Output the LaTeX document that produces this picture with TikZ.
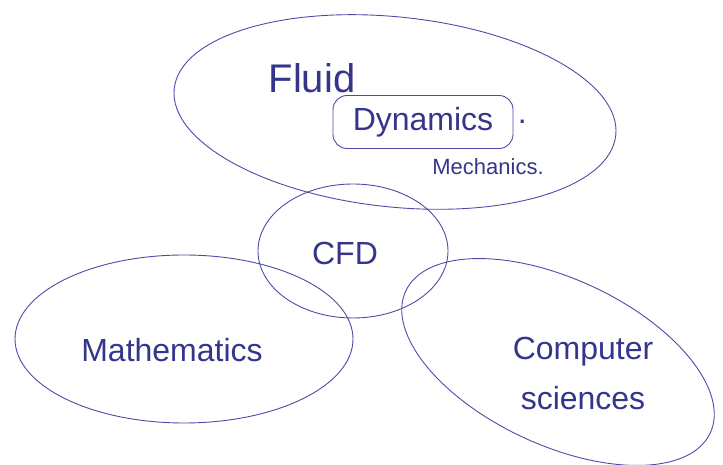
\documentclass[tikz,border=0pt]{standalone}
\usepackage{fontspec}
\setmainfont{Liberation Sans}
\usetikzlibrary{positioning,shapes.geometric}
\definecolor{inkBlue}{HTML}{4C4CA8}
\definecolor{inkDeep}{HTML}{35358C}

\tikzset{
  area/.style={draw=inkBlue,line width=0.9pt,ellipse,inner sep=0pt},
  word/.style={text=inkDeep,font=\fontsize{32}{50}\selectfont,align=center}
}

\begin{document}
\begin{tikzpicture}[x=1pt,y=1pt]
  \useasboundingbox (0,0) rectangle (723,465);
  % the four fields
  \node[area,minimum width=444pt,minimum height=190pt,rotate=-6] (fluidarea) at (395,353) {};
  \node[area,minimum width=190pt,minimum height=134pt] (cfdarea) at (353,214) {};
  \node[area,minimum width=338pt,minimum height=168pt] (matharea) at (184,126) {};
  \node[area,minimum width=336pt,minimum height=166pt,rotate=-25] (csarea) at (558,103) {};
  % labels
  \node[word,font=\fontsize{40}{48}\selectfont] (fluid) at (312,387) {Fluid};
  \node[word,draw=inkBlue,line width=0.9pt,rounded corners=14pt,
        minimum width=180pt,minimum height=53pt,inner sep=0pt] (dynamics) at (423,343) {Dynamics};
  \node[word,right=1pt of dynamics] (dot) {.};
  \node[word,font=\fontsize{22}{26}\selectfont] (mechanics) at (488,298) {Mechanics.};
  \node[word] (cfd) at (345,212) {CFD};
  \node[word] (maths) at (172,115) {Mathematics};
  \node[word] (cs) at (583,92) {Computer\\sciences};
\end{tikzpicture}
\end{document}
